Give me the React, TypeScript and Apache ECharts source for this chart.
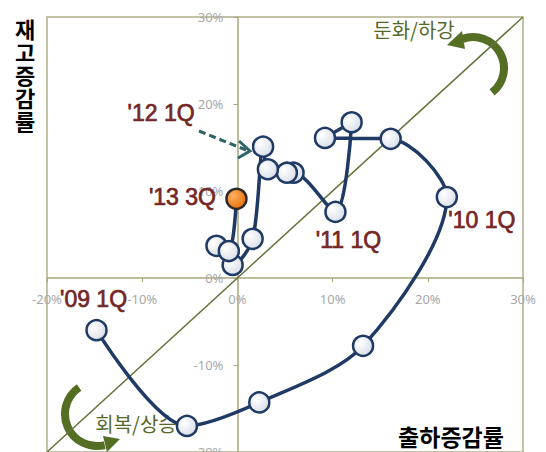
import React, { useEffect, useRef } from "react";
import * as echarts from "echarts";

// 출하증감률 (x) and 재고증감률 (y), in %, in path order
const shipmentGrowth = [-14.8, -5.3, 2.3, 13.2, 22.0, 16.1, 9.2, 12.0, 10.3, 5.9, 5.2, 3.2, 2.7, 1.6, -0.5, -2.2, -0.9, -0.1];
const inventoryGrowth = [-6.0, -17.0, -14.3, -7.8, 9.3, 16.0, 16.1, 17.9, 7.6, 12.1, 12.1, 12.5, 15.1, 4.5, 1.5, 3.7, 3.1, 9.1];
const pointLabels = ["'09 1Q", "", "", "", "'10 1Q", "", "", "", "'11 1Q", "", "", "", "'12 1Q", "", "", "", "", "'13 3Q"];
const highlightIndex = 17;
const diagonal = [[-20, -20], [30, 30]];
const axisMin = -20;
const axisMax = 30;
const axisStep = 10;
const yTitleChars = ["재", "고", "증", "감", "률"];

const labelOffsets: Record<number, number[]> = {
  0: [-3, -31],
  4: [35, 23],
  8: [13, 28],
  12: [-102, -34],
  17: [-54, -2],
};

const KR = '"Noto Sans CJK KR", "Noto Sans", sans-serif';

const GRID = { left: 47, right: 23, top: 17, bottom: 0 };
const W = 546;
const H = 452;

export default function App() {
  const ref = useRef<HTMLDivElement>(null);
  useEffect(() => {
    if (!ref.current) return;
    const chart = echarts.init(ref.current, null, { renderer: "svg" });
    const navy = "#1f3a64";
    const white = new echarts.graphic.RadialGradient(0.35, 0.35, 0.75, [
      { offset: 0, color: "#ffffff" },
      { offset: 1, color: "#d6dce6" },
    ]);
    const orange = new echarts.graphic.RadialGradient(0.35, 0.35, 0.75, [
      { offset: 0, color: "#ffb060" },
      { offset: 1, color: "#e56b00" },
    ]);
    // place each axis on the other axis' zero
    const plotW = W - GRID.left - GRID.right;
    const plotH = H - GRID.top - GRID.bottom;
    const zeroFrac = (0 - axisMin) / (axisMax - axisMin);
    const xAxisOffset = -plotH * zeroFrac;
    const yAxisOffset = -plotW * zeroFrac;
    const axisLabel = {
      color: "#a8a8a8",
      fontSize: 13,
      fontFamily: "Noto Sans, sans-serif",
      formatter: "{value}%",
      showMinLabel: true,
      showMaxLabel: true,
      margin: 14,
    };
    const axisLine = { onZero: false, lineStyle: { color: "#a9a67a", width: 1.5 } };
    const olive = "#546e23";
    const labelColor = "#742626";
    const data = shipmentGrowth.map((x, i) => {
      const item: any = { value: [x, inventoryGrowth[i]] };
      if (i === highlightIndex) {
        item.itemStyle = { color: orange, borderColor: "#2a2a2a" };
      }
      if (pointLabels[i]) {
        item.label = { show: true, formatter: pointLabels[i], offset: labelOffsets[i] };
      }
      return item;
    });
    const deg = Math.PI / 180;
    const yTitle = yTitleChars.map((ch, i) => ({
      type: "text",
      x: 25,
      y: 17 + i * 23,
      z: 5,
      style: {
        text: ch,
        fontSize: 22,
        fontWeight: "bold",
        fontFamily: KR,
        fill: "#000",
        align: "center",
        verticalAlign: "top",
      },
    }));
    chart.setOption({
      animation: false,
      backgroundColor: "#ffffff",
      grid: {
        ...GRID,
        outerBoundsMode: "none",
        containLabel: false,
        show: true,
        borderColor: "#b3b08a",
        borderWidth: 1.5,
        backgroundColor: "transparent",
      },
      xAxis: {
        type: "value",
        position: "bottom",
        offset: xAxisOffset,
        min: axisMin,
        max: axisMax,
        interval: axisStep,
        axisLine,
        axisTick: { show: true, length: 4, lineStyle: { color: "#a9a67a" } },
        axisLabel,
        splitLine: { show: false },
      },
      yAxis: {
        type: "value",
        position: "left",
        offset: yAxisOffset,
        min: axisMin,
        max: axisMax,
        interval: axisStep,
        axisLine,
        axisTick: { show: true, length: 4, lineStyle: { color: "#a9a67a" } },
        axisLabel,
        splitLine: { show: false },
      },
      series: [
        {
          type: "line",
          data: diagonal,
          symbol: "none",
          silent: true,
          lineStyle: { color: "#65743a", width: 1.5 },
          z: 1,
        },
        {
          type: "line",
          data,
          smooth: 0.3,
          symbol: "circle",
          symbolSize: 20,
          lineStyle: { color: navy, width: 3.5 },
          itemStyle: { color: white, borderColor: navy, borderWidth: 2.5 },
          label: {
            show: false,
            position: "inside",
            color: labelColor,
            fontSize: 23,
            fontFamily: "Liberation Sans, sans-serif",
            textBorderColor: labelColor,
            textBorderWidth: 0.7,
            align: "center",
            verticalAlign: "middle",
          },
          emphasis: { disabled: true },
          z: 3,
        },
      ],
      graphic: [
        ...yTitle,
        {
          type: "text",
          x: 451,
          y: 436,
          z: 5,
          style: { text: "출하증감률", fontSize: 23, fontWeight: "bold", fontFamily: KR, fill: "#000", align: "center", verticalAlign: "middle" },
        },
        {
          type: "text",
          x: 414,
          y: 29,
          z: 1,
          style: { text: "둔화/하강", fontSize: 20, fontFamily: KR, fill: "#55692a", align: "center", verticalAlign: "middle" },
        },
        {
          type: "text",
          x: 136,
          y: 423,
          z: 1,
          style: { text: "회복/상승", fontSize: 20, fontFamily: KR, fill: "#55692a", align: "center", verticalAlign: "middle" },
        },
        {
          type: "arc",
          z: 1,
          shape: { cx: 473, cy: 68, r: 31, startAngle: -110 * deg, endAngle: 52 * deg, clockwise: true },
          style: { stroke: olive, lineWidth: 8, fill: null },
        },
        {
          type: "polygon",
          z: 1,
          shape: { points: [[447, 45], [462, 31], [465, 49]] },
          style: { fill: olive },
        },
        {
          type: "arc",
          z: 1,
          shape: { cx: 97, cy: 414, r: 32, startAngle: 76 * deg, endAngle: 236 * deg, clockwise: true },
          style: { stroke: olive, lineWidth: 8, fill: null },
        },
        {
          type: "polygon",
          z: 1,
          shape: { points: [[120, 439], [103, 436], [107, 452]] },
          style: { fill: olive },
        },
        {
          type: "line",
          z: 1,
          shape: { x1: 199, y1: 131, x2: 246, y2: 150 },
          style: { stroke: "#2f6466", lineWidth: 3, lineDash: [7, 4] },
        },
        {
          type: "polyline",
          z: 1,
          shape: { points: [[239, 141], [250, 151], [238, 158]] },
          style: { stroke: "#2f6466", lineWidth: 3, fill: null },
        },
      ],
    });
    return () => chart.dispose();
  }, []);
  return <div ref={ref} style={{ position: "fixed", left: 0, top: 0, width: W, height: H, background: "#fff" }} />;
}
